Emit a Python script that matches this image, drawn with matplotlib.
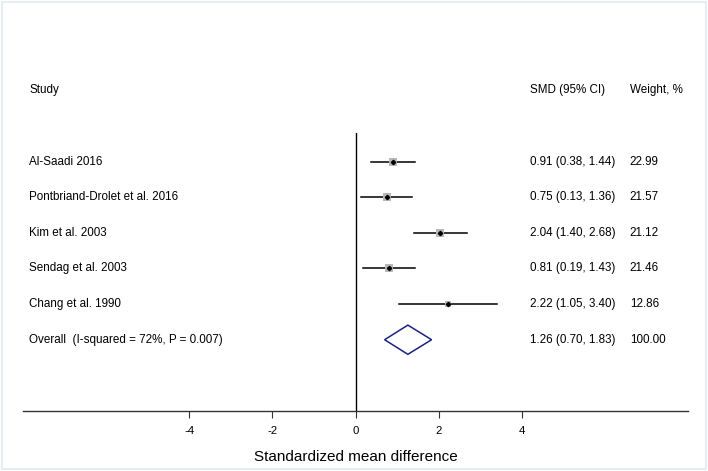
import matplotlib.pyplot as plt
from matplotlib.patches import Polygon, Rectangle
import numpy as np

plt.rcParams['font.family'] = ['Liberation Sans', 'DejaVu Sans']

studies = ["Al-Saadi 2016", "Pontbriand-Drolet et al. 2016", "Kim et al. 2003",
           "Sendag et al. 2003", "Chang et al. 1990"]
smd = [0.91, 0.75, 2.04, 0.81, 2.22]
lower = [0.38, 0.13, 1.40, 0.19, 1.05]
upper = [1.44, 1.36, 2.68, 1.43, 3.40]
weights = [22.99, 21.57, 21.12, 21.46, 12.86]

overall_label = "Overall  (I-squared = 72%, P = 0.007)"
overall = [1.26, 0.70, 1.83]
overall_weight = "100.00"

ticks = [-4, -2, 0, 2, 4]

fig = plt.figure(figsize=(7.08, 4.71), dpi=100)
fig.patches.append(Rectangle((0.003, 0.004), 0.994, 0.992, transform=fig.transFigure,
                             fill=False, edgecolor="#e6eef3", linewidth=1.5))

# axes spans the bottom axis line and the zero line
ax = fig.add_axes([23 / 708, 1 - 411 / 471, 665 / 708, 278 / 471])
ax.set_xlim(-8, 8)
ax.set_ylim(8.0, 0.2)

for side in ["top", "right", "left"]:
    ax.spines[side].set_visible(False)
ax.spines["bottom"].set_color("#333333")
ax.spines["bottom"].set_linewidth(1.0)
ax.set_yticks([])
ax.set_xticks(ticks)
ax.set_xticklabels([str(t) for t in ticks], fontsize=8.2)
ax.tick_params(axis="x", length=5, width=0.8, color="#333333", pad=6)
ax.set_xlabel("Standardized mean difference", fontsize=11, labelpad=10)

ax.axvline(0, color="black", linewidth=1.0)

txt = dict(fontsize=8.4, va="center", clip_on=False)
xs_study = -7.85
xs_smd = 4.2
xs_w = 6.6

ax.text(xs_study, -1, "Study", **txt)
ax.text(xs_smd, -1, "SMD (95% CI)", **txt)
ax.text(xs_w, -1, "Weight, %", **txt)

for i, name in enumerate(studies):
    y = i + 1
    ax.plot([lower[i], upper[i]], [y, y], color="black", linewidth=1.1, zorder=2)
    ms = np.sqrt(weights[i] / 22.99) * 6.0
    ax.plot(smd[i], y, marker="s", markersize=ms, color="#b8b8b8",
            markeredgewidth=0, zorder=3)
    ax.plot(smd[i], y, marker="D", markersize=2.2, color="black", zorder=4)
    ax.text(xs_study, y, name, **txt)
    ax.text(xs_smd, y, f"{smd[i]:.2f} ({lower[i]:.2f}, {upper[i]:.2f})", **txt)
    ax.text(xs_w, y, f"{weights[i]:.2f}", **txt)

yo = len(studies) + 1
est, lo, hi = overall
diamond = Polygon([[lo, yo], [est, yo - 0.41], [hi, yo], [est, yo + 0.41]],
                  closed=True, fill=False, edgecolor="#1a237e", linewidth=1.1)
ax.add_patch(diamond)
ax.text(xs_study, yo, overall_label, **txt)
ax.text(xs_smd, yo, f"{est:.2f} ({lo:.2f}, {hi:.2f})", **txt)
ax.text(xs_w, yo, overall_weight, **txt)

plt.savefig("out.png", dpi=100)
